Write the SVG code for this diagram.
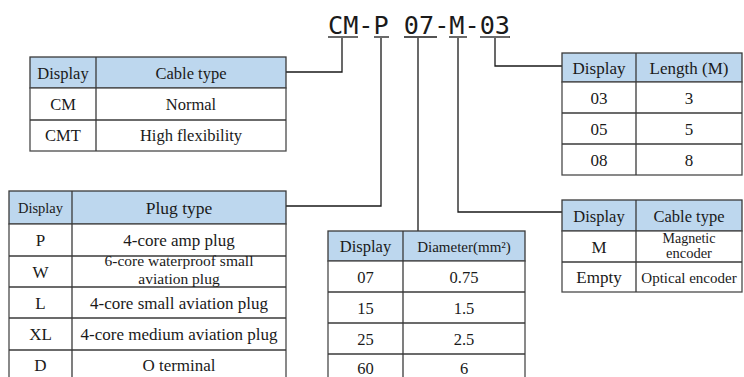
<svg xmlns="http://www.w3.org/2000/svg" width="744" height="377" viewBox="0 0 744 377">
<style>
.hd{fill:#BDD7EE;stroke:#3a3a3a;stroke-width:1.3}
.cell{fill:#ffffff;stroke:#4a4a4a;stroke-width:1.3}
.ln{stroke:#3a3a3a;stroke-width:1.3;fill:none}
.conn{stroke:#1a1a1a;stroke-width:1.3;fill:none}
text.t{font-family:"Liberation Serif","Times New Roman",serif;fill:#1a1a1a;text-anchor:middle}
.code{font-family:"DejaVu Sans Mono","Liberation Mono",monospace;font-size:25px;fill:#1a1a1a}
</style>
<rect width="744" height="377" fill="#ffffff"/>

<g id="title">
<text class="code" x="328" y="34" textLength="182" lengthAdjust="spacingAndGlyphs">CM-P 07-M-03</text>
<g class="conn">
<line x1="328" y1="37" x2="358" y2="37"/>
<line x1="374" y1="37" x2="389" y2="37"/>
<line x1="404" y1="37" x2="437" y2="37"/>
<line x1="449" y1="37" x2="467" y2="37"/>
<line x1="480" y1="37" x2="510" y2="37"/>
</g>
</g>

<g id="connectors" class="conn">
<polyline points="286,72 342,72 342,38"/>
<polyline points="286,206 381,206 381,38"/>
<polyline points="418,38 418,231"/>
<polyline points="458,38 458,212 562,212"/>
<polyline points="495,38 495,66 562,66"/>
</g>

<g id="table-cable-type">
<rect class="hd" x="30" y="57" width="256" height="31"/>
<rect class="cell" x="30" y="88" width="256" height="63"/>
<line class="ln" x1="30" y1="120" x2="286" y2="120"/>
<line class="ln" x1="96" y1="57" x2="96" y2="151"/>
<text class="t" x="63" y="79" font-size="16.5">Display</text>
<text class="t" x="191" y="79" font-size="16.5">Cable type</text>
<text class="t" x="63" y="110" font-size="16.5">CM</text>
<text class="t" x="191" y="110" font-size="16.5">Normal</text>
<text class="t" x="63" y="141" font-size="16.5">CMT</text>
<text class="t" x="191" y="141" font-size="16.5">High flexibility</text>
</g>

<g id="table-length">
<rect class="hd" x="562" y="53" width="180" height="29"/>
<rect class="cell" x="562" y="82" width="180" height="93"/>
<line class="ln" x1="562" y1="113" x2="742" y2="113"/>
<line class="ln" x1="562" y1="144" x2="742" y2="144"/>
<line class="ln" x1="636" y1="53" x2="636" y2="175"/>
<text class="t" x="599" y="73.5" font-size="17">Display</text>
<text class="t" x="689" y="73.5" font-size="17">Length (M)</text>
<text class="t" x="599" y="103.5" font-size="17">03</text>
<text class="t" x="689" y="103.5" font-size="17">3</text>
<text class="t" x="599" y="134.5" font-size="17">05</text>
<text class="t" x="689" y="134.5" font-size="17">5</text>
<text class="t" x="599" y="165.5" font-size="17">08</text>
<text class="t" x="689" y="165.5" font-size="17">8</text>
</g>

<g id="table-plug-type">
<rect class="hd" x="9" y="191" width="277" height="33"/>
<rect class="cell" x="9" y="224" width="277" height="160"/>
<line class="ln" x1="9" y1="256" x2="286" y2="256"/>
<line class="ln" x1="9" y1="287" x2="286" y2="287"/>
<line class="ln" x1="9" y1="318" x2="286" y2="318"/>
<line class="ln" x1="9" y1="350" x2="286" y2="350"/>
<line class="ln" x1="72" y1="191" x2="72" y2="384"/>
<text class="t" x="40.5" y="213" font-size="14.5">Display</text>
<text class="t" x="179" y="213.5" font-size="17.5">Plug type</text>
<text class="t" x="40.5" y="246" font-size="17">P</text>
<text class="t" x="179" y="246" font-size="17">4-core amp plug</text>
<text class="t" x="40.5" y="277.5" font-size="17">W</text>
<text class="t" x="179" y="265.5" font-size="15.5">6-core waterproof small</text>
<text class="t" x="179" y="283.5" font-size="15.5">aviation plug</text>
<text class="t" x="40.5" y="308.5" font-size="17">L</text>
<text class="t" x="179" y="308.5" font-size="17">4-core small aviation plug</text>
<text class="t" x="40.5" y="340" font-size="17">XL</text>
<text class="t" x="179" y="340" font-size="17">4-core medium aviation plug</text>
<text class="t" x="40.5" y="371" font-size="17">D</text>
<text class="t" x="179" y="371" font-size="17">O terminal</text>
</g>

<g id="table-diameter">
<rect class="hd" x="328" y="231" width="197" height="30"/>
<rect class="cell" x="328" y="261" width="197" height="123"/>
<line class="ln" x1="328" y1="292" x2="525" y2="292"/>
<line class="ln" x1="328" y1="323" x2="525" y2="323"/>
<line class="ln" x1="328" y1="354" x2="525" y2="354"/>
<line class="ln" x1="403" y1="231" x2="403" y2="384"/>
<text class="t" x="365.5" y="252" font-size="16.5">Display</text>
<text class="t" x="464" y="251.5" font-size="15">Diameter(mm²)</text>
<text class="t" x="365.5" y="282.5" font-size="16.5">07</text>
<text class="t" x="464" y="282.5" font-size="16.5">0.75</text>
<text class="t" x="365.5" y="313.5" font-size="16.5">15</text>
<text class="t" x="464" y="313.5" font-size="16.5">1.5</text>
<text class="t" x="365.5" y="344.5" font-size="16.5">25</text>
<text class="t" x="464" y="344.5" font-size="16.5">2.5</text>
<text class="t" x="365.5" y="373.5" font-size="16.5">60</text>
<text class="t" x="464" y="373.5" font-size="16.5">6</text>
</g>

<g id="table-encoder">
<rect class="hd" x="562" y="200" width="180" height="31"/>
<rect class="cell" x="562" y="231" width="180" height="61"/>
<line class="ln" x1="562" y1="262" x2="742" y2="262"/>
<line class="ln" x1="636" y1="200" x2="636" y2="292"/>
<text class="t" x="599" y="221.5" font-size="16.5">Display</text>
<text class="t" x="689" y="221.5" font-size="16.5">Cable type</text>
<text class="t" x="599" y="252.5" font-size="17">M</text>
<text class="t" x="689" y="243" font-size="14">Magnetic</text>
<text class="t" x="689" y="258" font-size="14.5">encoder</text>
<text class="t" x="599" y="283" font-size="17">Empty</text>
<text class="t" x="689" y="283" font-size="15">Optical encoder</text>
</g>
</svg>
